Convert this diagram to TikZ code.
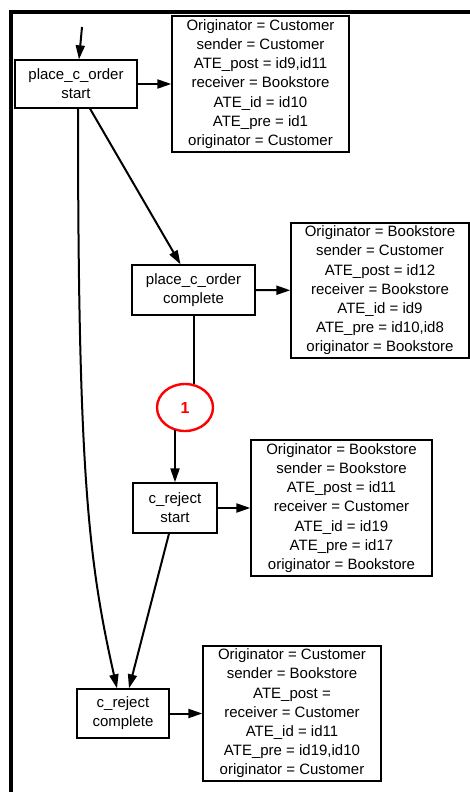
\documentclass[tikz,border=0pt]{standalone}
\usepackage{fontspec}
\setmainfont{Liberation Sans}
\usetikzlibrary{arrows.meta,shapes.geometric}

\begin{document}
\begin{tikzpicture}[
    x=1pt, y=-1pt,
    act/.style={rectangle, draw, line width=1.3pt, align=center, inner sep=0pt, font=\fontsize{15}{19.2}\selectfont},
    info/.style={act, minimum width=178pt, minimum height=136pt},
    flow/.style={-{Triangle[length=14pt,width=9pt]}, line width=2pt},
    plain/.style={line width=2pt},
    loopmark/.style={ellipse, draw=red, line width=2.4pt, text=red, minimum width=56pt, minimum height=47pt, inner sep=0pt, font=\fontsize{16}{18}\selectfont\bfseries}
]
\useasboundingbox (0,0) rectangle (470,792);

% frame (cut off at the right and bottom)
\draw[line width=4pt] (470,12) -- (11,12) -- (11,792);

% ===== activities =====
\node[act, minimum width=122pt, minimum height=48pt] (pco_s) at (76,84) {place\_c\_order\\start};
\node[act, minimum width=123pt, minimum height=50pt] (pco_c) at (193.5,290) {place\_c\_order\\complete};
\node[loopmark] (mark1) at (185,407.5) {1};
\node[act, minimum width=84pt, minimum height=50pt] (crj_s) at (175,508) {c\_reject\\start};
\node[act, minimum width=92pt, minimum height=49pt] (crj_c) at (123,713.5) {c\_reject\\complete};

% ===== attribute boxes =====
\node[info, minimum width=177pt] (info1) at (260.5,84) {
Originator = Customer\\
sender = Customer\\
ATE\_post = id9,id11\\
receiver = Bookstore\\
ATE\_id = id10\\
ATE\_pre = id1\\
originator = Customer};

\node[info, minimum height=135pt] (info2) at (380,290.5) {
Originator = Bookstore\\
sender = Customer\\
ATE\_post = id12\\
receiver = Bookstore\\
ATE\_id = id9\\
ATE\_pre = id10,id8\\
originator = Bookstore};

\node[info, minimum width=181pt] (info3) at (341.5,508) {
Originator = Bookstore\\
sender = Bookstore\\
ATE\_post = id11\\
receiver = Customer\\
ATE\_id = id19\\
ATE\_pre = id17\\
originator = Bookstore};

\node[info, minimum height=135pt] (info4) at (292,713.5) {
Originator = Customer\\
sender = Bookstore\\
ATE\_post = \\
receiver = Customer\\
ATE\_id = id11\\
ATE\_pre = id19,id10\\
originator = Customer};

% ===== connectors =====
\coordinate (entry) at (82,27);
\draw[flow] (entry) -- ([xshift=3pt]pco_s.north);
\draw[flow] (pco_s) -- (info1);
\draw[flow] ([xshift=14pt]pco_s.south) -- ([xshift=-13pt]pco_c.north);
\draw[flow] (pco_c) -- (info2);
\draw[plain, shorten >=-1.5pt] (pco_c.south) -- (mark1.north -| pco_c.south);
\draw[flow, shorten <=-2pt] (mark1.south -| crj_s.north) -- (crj_s.north);
\draw[flow] (crj_s) -- (info3);
\draw[flow] ([xshift=-6pt]crj_s.south) -- ([xshift=6pt]crj_c.north);
\draw[flow] ([xshift=2pt]pco_s.south) .. controls (78,470) and (88,560) .. ([xshift=-6pt]crj_c.north);
\draw[flow] (crj_c) -- (info4);

\end{tikzpicture}
\end{document}
